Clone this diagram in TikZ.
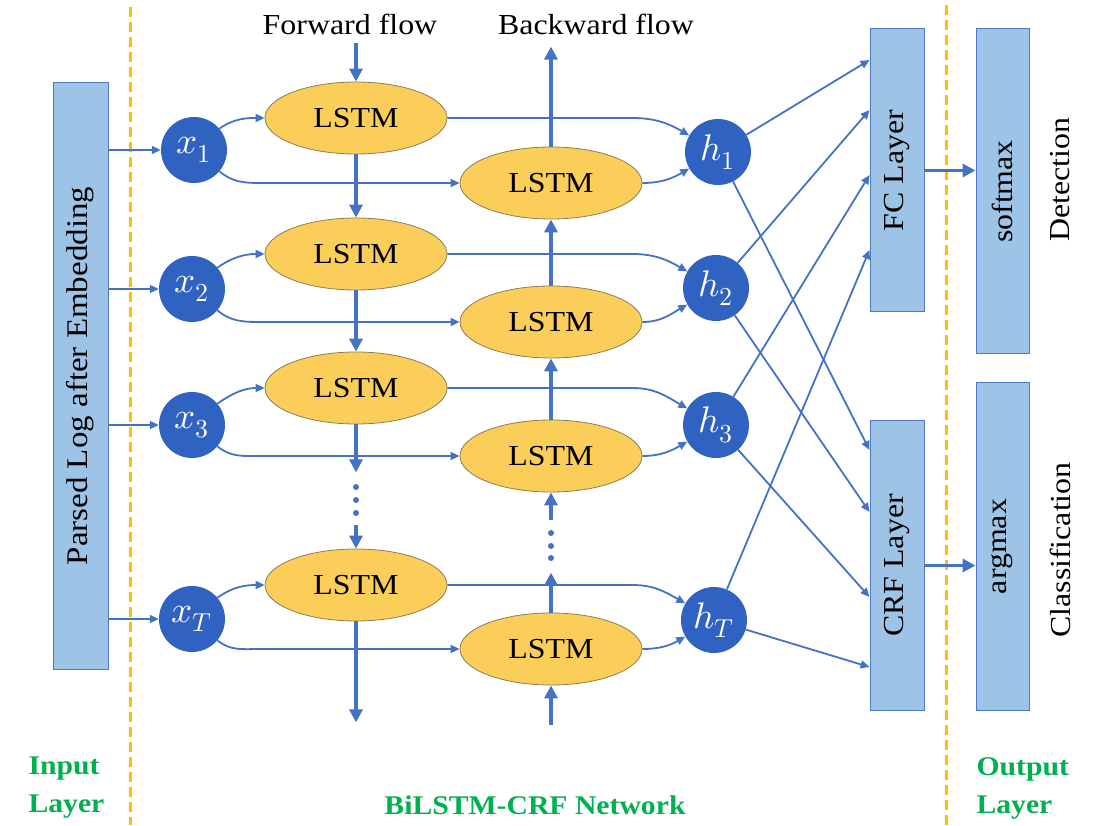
\documentclass[tikz,border=0pt]{standalone}
\usepackage{fontspec}
\usepackage{unicode-math}
\setmainfont[FakeStretch=1.1]{Liberation Serif}
\setmathfont{Latin Modern Math}
\usepackage{graphicx}
\usetikzlibrary{arrows.meta,calc,shapes.geometric}

\definecolor{flow}{RGB}{68,114,196}
\definecolor{unitfill}{RGB}{48,98,194}
\definecolor{boxfill}{RGB}{157,195,230}
\definecolor{boxline}{RGB}{80,120,200}
\definecolor{cellfill}{RGB}{250,206,88}
\definecolor{cellline}{RGB}{140,125,90}
\definecolor{divcol}{RGB}{255,190,0}
\definecolor{regcol}{RGB}{0,176,80}

\begin{document}
\begin{tikzpicture}[x=1pt,y=1pt,
  lay/.style={draw=boxline, line width=1pt, fill=boxfill, inner sep=0pt,
              font=\fontsize{29}{31}\selectfont},
  cell/.style={ellipse, draw=cellline, line width=0.8pt, fill=cellfill,
               minimum width=182pt, minimum height=72pt, inner sep=0pt,
               font=\fontsize{29}{31}\selectfont},
  unit/.style={circle, fill=unitfill, minimum size=66pt, inner sep=0pt,
               text=white, font=\fontsize{37}{37}\selectfont},
  link/.style={draw=flow, line width=1.8pt, -{Triangle[length=9pt,width=8pt]}},
  flowarrow/.style={draw=flow, line width=3.5pt, -{Triangle[length=13pt,width=13pt]}},
  divider/.style={draw=divcol, line width=3pt, dash pattern=on 10pt off 5pt},
  caption/.style={font=\fontsize{29}{31}\selectfont},
  region/.style={text=regcol, font=\bfseries\fontsize{27}{38}\selectfont, align=left}
]
\useasboundingbox (0,0) rectangle (1102,825);

% layer separators
\draw[divider] (130,818) -- (130,0);
\draw[divider] (946,820) -- (946,0);

% input embedding
\node[lay, minimum width=55pt, minimum height=586pt] (emb) at (80.5,449)
  {\rotatebox{90}{\fontsize{30}{32}\selectfont Parsed Log after Embedding}};

% input tokens
\node[unit] (x1) at (194,675) {$x_1$};
\node[unit] (x2) at (192,536) {$x_2$};
\node[unit] (x3) at (192,400) {$x_3$};
\node[unit] (xT) at (192,206) {$x_T$};

% forward cells
\node[cell] (f1) at (356,707) {LSTM};
\node[cell] (f2) at (356,571) {LSTM};
\node[cell] (f3) at (356,437) {LSTM};
\node[cell] (fT) at (356,240) {LSTM};

% backward cells
\node[cell] (b1) at (551,642) {LSTM};
\node[cell] (b2) at (551,503) {LSTM};
\node[cell] (b3) at (551,369) {LSTM};
\node[cell] (bT) at (551,176) {LSTM};

% hidden states
\node[unit] (h1) at (718,673) {$h_1$};
\node[unit] (h2) at (716,537) {$h_2$};
\node[unit] (h3) at (716,400) {$h_3$};
\node[unit] (hT) at (714,205) {$h_T$};

% output side
\node[lay, minimum width=54pt, minimum height=283pt] (fc) at (897,654.5)
  {\rotatebox{90}{FC Layer}};
\node[lay, minimum width=54pt, minimum height=289pt] (crf) at (897,259.5)
  {\rotatebox{90}{CRF Layer}};
\node[lay, minimum width=53pt, minimum height=325pt] (sm) at (1002.5,633.5)
  {\rotatebox{90}{softmax}};
\node[lay, minimum width=53pt, minimum height=327pt] (am) at (1002.5,278.5)
  {\rotatebox{90}{argmax}};
\node[caption, rotate=90] (det) at (1060,645) {Detection};
\node[caption, rotate=90] (cls) at (1060,275) {Classification};

% headings
\node[caption] (fwd) at (350,801) {Forward flow};
\node[caption] (bwd) at (596,801) {Backward flow};

% region names
\node[region, anchor=west] (rin) at (25,37) {Input\\Layer};
\node[region] (rnet) at (535,20) {BiLSTM-CRF Network};
\node[region, anchor=west] (rout) at (973,37) {Output\\Layer};

% token wiring
\foreach \i in {1,2,3,T}{
  \draw[link] (emb.east |- x\i.west) -- (x\i.west);
  \draw[link] (x\i.40) to[out=35,in=180] (f\i.west);
  \draw[link] (x\i.-40) to[out=-40,in=180] ($(b\i.west)+(-200,0)$) -- (b\i.west);
  \draw[link] (f\i.east) -- ($(f\i.east)+(185,0)$) to[out=0,in=150] (h\i.150);
  \draw[link] (b\i.east) to[out=0,in=210] (h\i.210);
}

% forward chain
\draw[flowarrow] ($(f1.north)+(0,39)$) -- (f1.north);
\draw[flowarrow] (f1.south) -- (f2.north);
\draw[flowarrow] (f2.south) -- (f3.north);
\draw[flowarrow] (f3.south) -- ++(0,-48);
\foreach \y in {338,325,312} \fill[flow] (356,\y) circle (3pt);
\draw[flowarrow] ($(fT.north)+(0,24)$) -- (fT.north);
\draw[flowarrow] (fT.south) -- ++(0,-101);

% backward chain
\draw[flowarrow] ($(bT.south)+(0,-40)$) -- (bT.south);
\draw[flowarrow] (bT.north) -- ++(0,40);
\foreach \y in {292,279,267} \fill[flow] (551,\y) circle (3pt);
\draw[flowarrow] ($(b3.south)+(0,-28)$) -- (b3.south);
\draw[flowarrow] (b3.north) -- (b2.south);
\draw[flowarrow] (b2.north) -- (b1.south);
\draw[flowarrow] (b1.north) -- ++(0,100);

% hidden states to output layers
\draw[link] (h1) -- ([yshift=110.5pt]fc.west);
\draw[link] (h2) -- ([yshift=60.5pt]fc.west);
\draw[link] (h3) -- ([yshift=-4.5pt]fc.west);
\draw[link] (hT) -- ([yshift=-79.5pt]fc.west);
\draw[link] (h1) -- ([yshift=115.5pt]crf.west);
\draw[link] (h2) -- ([yshift=53.5pt]crf.west);
\draw[link] (h3) -- ([yshift=-31.5pt]crf.west);
\draw[link] (hT) -- ([yshift=-101.5pt]crf.west);

\draw[flowarrow] (fc.east) -- (fc.east -| sm.west);
\draw[flowarrow] (crf.east) -- (crf.east -| am.west);
\end{tikzpicture}
\end{document}
